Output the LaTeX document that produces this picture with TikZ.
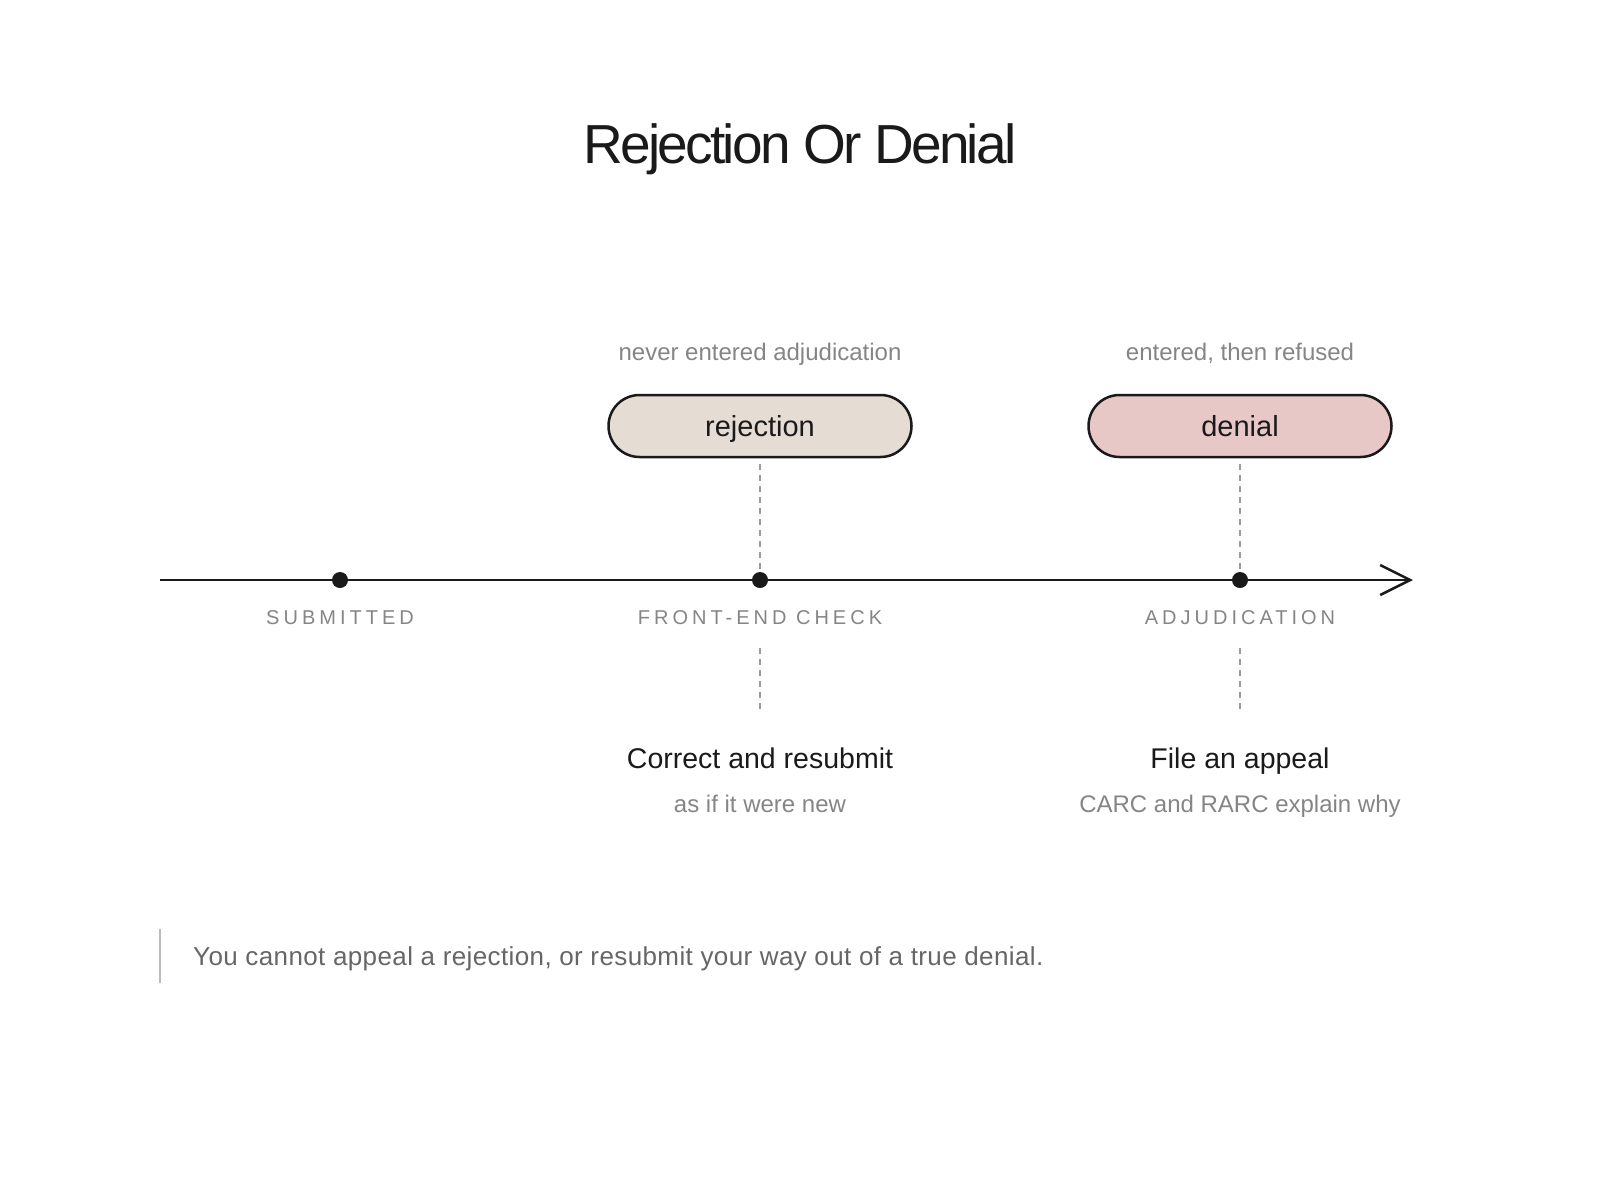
\documentclass[tikz,border=0pt]{standalone}
\usepackage{fontspec}
\setmainfont{Liberation Sans}
\newfontfamily\capsfont[LetterSpace=20]{Liberation Sans}
\newfontfamily\titlefont[LetterSpace=-5]{Liberation Sans}
\newfontfamily\notefont[LetterSpace=1.5]{Liberation Sans}
\usetikzlibrary{arrows.meta,positioning}

\definecolor{inkcolor}{HTML}{1A1A1A}
\definecolor{mutecolor}{HTML}{858585}
\definecolor{notecolor}{HTML}{666666}
\definecolor{dashcolor}{HTML}{9A9A9A}
\definecolor{barcolor}{HTML}{BBBBBB}
\definecolor{rejfill}{HTML}{E5DCD3}
\definecolor{denfill}{HTML}{E8C7C7}

\begin{document}
\begin{tikzpicture}[x=1pt,y=-1pt,
  pill/.style={draw=inkcolor,line width=2.5pt,rounded corners=31pt,
    minimum width=303pt,minimum height=62pt,inner sep=0pt,text=inkcolor,
    text height=25pt,text depth=4pt,font=\fontsize{29}{34}\selectfont},
  tick/.style={circle,fill=inkcolor,minimum size=16pt,inner sep=0pt},
  stage/.style={anchor=base,inner sep=0pt,text=mutecolor,font=\capsfont\fontsize{20}{24}\selectfont},
  hint/.style={anchor=base,inner sep=0pt,text=mutecolor,font=\fontsize{24}{28}\selectfont},
  action/.style={anchor=base,inner sep=0pt,text=inkcolor,font=\fontsize{28.5}{33}\selectfont},
  guide/.style={draw=dashcolor,line width=2pt,dash pattern=on 6pt off 5pt}]
\useasboundingbox (0,0) rectangle (1600,1200);

% title
\node[anchor=base,inner sep=0pt,text=inkcolor,font=\titlefont\fontsize{55}{62}\selectfont]
  (title) at (800,163) {Rejection Or Denial};

% timeline
\coordinate (start) at (160,580);
\coordinate (end) at (1413,580);
\draw[inkcolor,line width=2pt,-{Straight Barb[length=30pt,width=30pt,line width=2.5pt]}] (start) -- (end);
\node[tick] (sub) at (340,580) {};
\node[tick] (fec) at (760,580) {};
\node[tick] (adj) at (1240,580) {};

\node[stage] (sublbl) at (340,624) {SUBMITTED};
\node[stage] (feclbl) at (760,624) {FRONT-END CHECK};
\node[stage] (adjlbl) at (1240,624) {ADJUDICATION};

% outcomes
\node[pill,fill=rejfill] (rej) at (760,426) {rejection};
\node[pill,fill=denfill] (den) at (1240,426) {denial};
\node[hint] (rejnote) at (760,360) {never entered adjudication};
\node[hint] (dennote) at (1240,360) {entered, then refused};

\draw[guide] (rej.south) ++(0,-6pt) -- (fec.north);
\draw[guide] (den.south) ++(0,-6pt) -- (adj.north);

% what to do next
\coordinate (fectop) at (760,648);
\coordinate (fecbot) at (760,710);
\coordinate (adjtop) at (1240,648);
\coordinate (adjbot) at (1240,710);
\draw[guide] (fectop) -- (fecbot);
\draw[guide] (adjtop) -- (adjbot);

\node[action] (fix) at (760,768) {Correct and resubmit};
\node[hint] (fixnote) at (760,812) {as if it were new};
\node[action] (appeal) at (1240,768) {File an appeal};
\node[hint] (appealnote) at (1240,812) {CARC and RARC explain why};

% footnote
\coordinate (bartop) at (160,929);
\coordinate (barbot) at (160,983);
\draw[barcolor,line width=2pt] (bartop) -- (barbot);
\node[anchor=base west,inner sep=0pt,text=notecolor,font=\notefont\fontsize{26}{30}\selectfont]
  (note) at (193,965) {You cannot appeal a rejection, or resubmit your way out of a true denial.};
\end{tikzpicture}
\end{document}
